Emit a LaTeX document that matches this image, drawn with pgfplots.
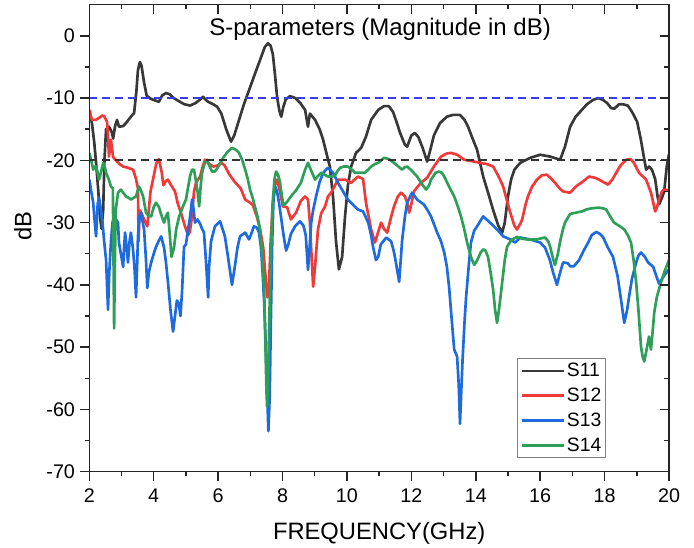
\documentclass[border=0pt]{standalone}
\usepackage{fontspec}
\setmainfont{Liberation Sans}
\usepackage{pgfplots}
\pgfplotsset{compat=1.18}
\definecolor{cS11}{HTML}{383838}
\definecolor{cS12}{HTML}{F03A3A}
\definecolor{cS13}{HTML}{1E6BDF}
\definecolor{cS14}{HTML}{2E9F58}
\definecolor{cDashB}{HTML}{3A3AF0}
\definecolor{cDashK}{HTML}{333333}
\begin{document}
\begin{tikzpicture}
\begin{axis}[
  scale only axis, width=434.8pt, height=350.3pt,
  xmin=2, xmax=20, ymin=-70, ymax=5,
  xtick={2,4,...,20}, ytick={-70,-60,...,0},
  minor x tick num=1, minor y tick num=1,
  tick align=outside, xtick pos=left, ytick pos=left,
  major tick length=6.75pt, minor tick length=3.4pt,
  axis line style={line width=1.1pt, draw=black!85},
  every tick/.style={line width=1.1pt, black!85},
  tick label style={font=\fontsize{14.8}{17}\selectfont},
  xticklabel style={yshift=-2.5pt},
  yticklabel style={xshift=-0.5pt},
  /pgf/number format/assume math mode=true,
  xlabel={FREQUENCY(GHz)}, ylabel={dB},
  xlabel style={font=\fontsize{17.8}{20}\selectfont, at={(axis description cs:0.5,0)}, anchor=base, yshift=-51.2pt},
  ylabel style={font=\fontsize{17.8}{20}\selectfont, at={(axis description cs:-0.1144,0.526)}, anchor=center},
  legend style={at={(axis description cs:0.738,0.2435)}, anchor=north west, draw=black!50, line width=0.75pt, fill=white, font=\fontsize{14.5}{16}\selectfont, inner xsep=2pt, inner ysep=2.5pt, row sep=5pt, nodes={inner sep=1pt}},
  legend cell align=left,
  legend image code/.code={\draw[#1] (0pt,0pt) -- (32pt,0pt);},
]
\addplot[cS11, line width=2pt, line join=round] coordinates {
(2.00,-11.9) (2.08,-14) (2.15,-17) (2.21,-20.4) (2.28,-25) (2.33,-29) (2.38,-31) (2.43,-28) (2.47,-20) (2.52,-15) (2.61,-14.6) (2.70,-15.5) (2.74,-16.5) (2.80,-14.5) (2.86,-13.5) (2.92,-14.6) (3.05,-14.5) (3.14,-14) (3.29,-13) (3.39,-12.4) (3.46,-9) (3.51,-5.5) (3.57,-4.2) (3.62,-4.8) (3.70,-7.5) (3.78,-9.6) (3.90,-10.1) (4.05,-10.4) (4.16,-10.6) (4.26,-9.6) (4.38,-9.2) (4.50,-9.4) (4.62,-10) (4.75,-10.4) (4.95,-11) (5.13,-11.2) (5.30,-10.8) (5.45,-10.2) (5.53,-9.8) (5.62,-10.3) (5.69,-10.6) (5.85,-11) (5.97,-11.4) (6.10,-12.5) (6.25,-15) (6.40,-17) (6.50,-16) (6.65,-13.5) (6.80,-11) (6.99,-8.3) (7.15,-6) (7.30,-3.9) (7.45,-1.8) (7.55,-1.2) (7.63,-1.6) (7.70,-3) (7.77,-6.5) (7.83,-9.8) (7.90,-12) (7.96,-13) (8.02,-11.5) (8.10,-10.2) (8.23,-9.7) (8.40,-10) (8.55,-10.8) (8.70,-11.9) (8.79,-14.6) (8.85,-12.5) (9.01,-13.5) (9.15,-15) (9.26,-16.7) (9.37,-19) (9.47,-21) (9.57,-26) (9.66,-33) (9.75,-37.5) (9.85,-35.5) (9.94,-29) (10.03,-24) (10.13,-21) (10.28,-18.8) (10.44,-18) (10.59,-16.2) (10.75,-13.5) (10.97,-11.9) (11.15,-11.3) (11.30,-11.3) (11.43,-12.2) (11.55,-14) (11.65,-15.6) (11.80,-17.5) (11.87,-17.8) (12.00,-16) (12.11,-15.6) (12.22,-16.3) (12.35,-18) (12.49,-20.2) (12.58,-18.5) (12.70,-16) (12.89,-14) (13.10,-13) (13.29,-12.7) (13.51,-12.7) (13.65,-13.5) (13.76,-14.6) (13.90,-16.5) (14.04,-18.3) (14.23,-22.6) (14.40,-25.5) (14.54,-28) (14.70,-30.5) (14.82,-31.6) (14.90,-30) (15.00,-25.8) (15.10,-23) (15.20,-21.5) (15.38,-20.4) (15.69,-19.6) (16.00,-19.1) (16.31,-19.4) (16.62,-19.9) (16.77,-17.8) (16.93,-14.6) (17.10,-13) (17.24,-12.2) (17.45,-11) (17.64,-10.3) (17.80,-10) (17.95,-10.3) (18.08,-10.8) (18.20,-11.6) (18.30,-11.7) (18.45,-11) (18.57,-11) (18.72,-11.2) (18.85,-12.2) (19.01,-13.8) (19.12,-16.5) (19.22,-19.5) (19.29,-21.5) (19.38,-21) (19.47,-21.5) (19.57,-23) (19.65,-26) (19.70,-27) (19.78,-26) (19.85,-25) (19.93,-21) (20.00,-19)
};
\addlegendentry{S11}
\addplot[cS12, line width=2pt, line join=round] coordinates {
(2.00,-11.9) (2.08,-13.5) (2.20,-13.5) (2.30,-13.2) (2.40,-12.8) (2.46,-12.9) (2.55,-13.8) (2.58,-16) (2.61,-19.4) (2.67,-16.7) (2.74,-19.5) (2.83,-20) (2.92,-20.5) (3.05,-21) (3.20,-21.2) (3.36,-21.5) (3.45,-23) (3.51,-24.5) (3.53,-33) (3.56,-28) (3.62,-28.5) (3.70,-29.5) (3.80,-30.6) (3.90,-25) (3.98,-23) (4.08,-20.5) (4.16,-19.8) (4.25,-22) (4.30,-24) (4.38,-23.3) (4.44,-23.1) (4.54,-24) (4.66,-25) (4.75,-27) (4.85,-28.5) (4.97,-30.6) (5.07,-32) (5.12,-31.5) (5.19,-29) (5.25,-25) (5.32,-23.5) (5.44,-22.6) (5.52,-21) (5.59,-19.9) (5.70,-20.5) (5.85,-21) (6.00,-20.8) (6.10,-20.4) (6.20,-20.8) (6.34,-22.2) (6.52,-23.5) (6.70,-24.5) (6.84,-26.3) (6.99,-26.8) (7.08,-27.2) (7.20,-29) (7.30,-31) (7.40,-34) (7.46,-38) (7.53,-42) (7.58,-40) (7.63,-33) (7.70,-27) (7.78,-23.5) (7.83,-23.1) (7.92,-25) (8.01,-27.4) (8.14,-27.5) (8.26,-29.5) (8.42,-28.4) (8.57,-26.5) (8.70,-25.8) (8.79,-26.3) (8.85,-30) (8.89,-34.3) (8.95,-40.3) (9.01,-37) (9.10,-31.1) (9.20,-28.5) (9.32,-27.4) (9.41,-25.8) (9.51,-25.2) (9.72,-23.1) (9.94,-23.1) (10.13,-23.6) (10.34,-22.6) (10.50,-23) (10.59,-26.8) (10.75,-31.1) (10.87,-33.2) (10.97,-31.5) (11.06,-30) (11.15,-31) (11.25,-31.6) (11.35,-29.5) (11.46,-27.4) (11.58,-25.8) (11.68,-25.2) (11.80,-25.8) (11.87,-26.8) (11.93,-28.4) (12.00,-27) (12.08,-25) (12.20,-24.2) (12.30,-23.6) (12.49,-22.8) (12.70,-21) (12.92,-19.4) (13.10,-18.9) (13.23,-18.8) (13.42,-19.1) (13.64,-19.9) (13.95,-20.2) (14.13,-20.4) (14.35,-20.6) (14.54,-21) (14.70,-22.5) (14.85,-24.2) (14.97,-26.5) (15.07,-28.4) (15.20,-30.5) (15.28,-31.1) (15.38,-30.2) (15.44,-29.5) (15.55,-27) (15.62,-25.8) (15.75,-24.2) (15.90,-23.1) (16.05,-22.4) (16.21,-22.3) (16.35,-23) (16.46,-23.6) (16.60,-24.5) (16.71,-25) (16.93,-25.2) (17.11,-24.2) (17.30,-23.5) (17.52,-22.6) (17.70,-22.8) (17.83,-23.1) (18.00,-23.6) (18.11,-23.9) (18.25,-23) (18.36,-22) (18.50,-20.8) (18.67,-19.9) (18.80,-19.8) (18.90,-20.3) (19.07,-22) (19.29,-23.1) (19.44,-25.2) (19.52,-27) (19.57,-28.2) (19.63,-27.5) (19.69,-26.3) (19.78,-25) (19.85,-24.7) (20.00,-24.8)
};
\addlegendentry{S12}
\addplot[cS13, line width=2pt, line join=round] coordinates {
(2.00,-23.1) (2.06,-25) (2.12,-26.8) (2.17,-30) (2.21,-32.2) (2.26,-27) (2.30,-26) (2.36,-27.9) (2.41,-30) (2.46,-33) (2.52,-36) (2.58,-44) (2.62,-38) (2.67,-33.2) (2.72,-30) (2.77,-29) (2.83,-29.5) (2.89,-30) (2.92,-33.2) (2.98,-35) (3.05,-37.1) (3.08,-34) (3.11,-31.6) (3.16,-34) (3.20,-36.4) (3.25,-33) (3.29,-31.6) (3.35,-34) (3.40,-37) (3.45,-42) (3.49,-36) (3.51,-32.2) (3.56,-29) (3.61,-28.4) (3.66,-30) (3.70,-31.1) (3.76,-36) (3.80,-40.5) (3.85,-38) (3.92,-36.4) (4.00,-35) (4.07,-33.9) (4.15,-33) (4.23,-32.2) (4.32,-34) (4.38,-36.4) (4.45,-40) (4.52,-44) (4.60,-47.5) (4.66,-45) (4.72,-42.5) (4.78,-43) (4.83,-45) (4.88,-41) (4.94,-33.9) (5.00,-33.5) (5.07,-31) (5.13,-29) (5.19,-26.3) (5.24,-28) (5.28,-30) (5.36,-29.5) (5.44,-30.2) (5.50,-31) (5.56,-31.6) (5.62,-36) (5.69,-42) (5.72,-37) (5.78,-33) (5.90,-30.6) (6.06,-29.8) (6.21,-32.2) (6.32,-36) (6.43,-40) (6.52,-37) (6.60,-34) (6.68,-32.2) (6.84,-31.6) (6.96,-32.7) (7.05,-31.5) (7.11,-30.6) (7.20,-30.8) (7.27,-31.6) (7.33,-34) (7.38,-38) (7.43,-43) (7.48,-50) (7.52,-57) (7.56,-63.5) (7.60,-58) (7.64,-45) (7.68,-33) (7.72,-26) (7.77,-24.2) (7.83,-25) (7.89,-26.8) (7.95,-29) (8.03,-32) (8.11,-34.5) (8.18,-33.5) (8.26,-31.8) (8.40,-30.5) (8.54,-29.8) (8.65,-30.5) (8.72,-32) (8.79,-37.6) (8.84,-34) (8.89,-30) (8.95,-28) (9.04,-25.8) (9.15,-23.5) (9.26,-22) (9.41,-21.2) (9.57,-22) (9.72,-23.6) (9.88,-25) (10.03,-26.3) (10.20,-27.2) (10.34,-27.9) (10.50,-28.2) (10.66,-30) (10.75,-32) (10.81,-33.9) (10.90,-36) (10.97,-35.5) (11.05,-33.5) (11.22,-32.4) (11.37,-33) (11.45,-34.5) (11.52,-36.4) (11.62,-39.5) (11.67,-36) (11.71,-33) (11.80,-29) (11.87,-26.8) (12.02,-25.2) (12.18,-26.3) (12.39,-27.1) (12.50,-28) (12.61,-29) (12.80,-31.6) (12.92,-33) (13.02,-34.8) (13.10,-37) (13.17,-40.3) (13.26,-46) (13.33,-50.4) (13.42,-51.5) (13.47,-56) (13.51,-62.3) (13.55,-57) (13.59,-52) (13.65,-46) (13.70,-41.9) (13.78,-37) (13.85,-33.2) (13.95,-31.3) (14.04,-30.6) (14.23,-29) (14.44,-30) (14.66,-31.1) (14.85,-32.2) (15.07,-32.7) (15.22,-33.2) (15.38,-32.4) (15.69,-32.7) (16.00,-33.2) (16.15,-34) (16.30,-36) (16.40,-38) (16.52,-40) (16.62,-38) (16.71,-36.4) (16.85,-36.5) (16.93,-37) (17.05,-37) (17.21,-36) (17.35,-34.5) (17.49,-33.2) (17.60,-32) (17.74,-31.5) (17.85,-31.8) (17.95,-32.3) (18.10,-34) (18.26,-35.5) (18.40,-38.5) (18.50,-42) (18.61,-46.1) (18.70,-44) (18.76,-41.9) (18.85,-39) (18.98,-36.4) (19.05,-35.3) (19.13,-34.8) (19.25,-35.5) (19.35,-36.4) (19.51,-37.1) (19.60,-38.5) (19.69,-39.8) (19.85,-38.5) (20.00,-37.5)
};
\addlegendentry{S13}
\addplot[cS14, line width=2pt, line join=round] coordinates {
(2.00,-18.8) (2.06,-20) (2.12,-21.5) (2.17,-21) (2.21,-21) (2.26,-22) (2.30,-23.1) (2.36,-22) (2.43,-20.4) (2.48,-21) (2.52,-22) (2.60,-23) (2.67,-24.2) (2.73,-24.5) (2.75,-35) (2.77,-47) (2.79,-38) (2.82,-28) (2.89,-25.2) (2.98,-24.7) (3.05,-25.2) (3.14,-25.8) (3.22,-26) (3.29,-26.3) (3.38,-26) (3.45,-25.8) (3.54,-24.2) (3.60,-24.8) (3.67,-25.8) (3.76,-28.4) (3.85,-29) (3.92,-29) (4.00,-27.5) (4.07,-26.8) (4.16,-27.5) (4.25,-29) (4.32,-30) (4.38,-29) (4.44,-28.4) (4.50,-32) (4.55,-35.5) (4.63,-34) (4.70,-31) (4.79,-29) (4.90,-27.5) (5.00,-26.3) (5.06,-24.5) (5.13,-22.5) (5.19,-21.5) (5.25,-21.5) (5.30,-23) (5.36,-25) (5.41,-27.4) (5.46,-24) (5.50,-22) (5.58,-20.5) (5.66,-19.9) (5.74,-21) (5.81,-21.8) (5.90,-21.8) (5.97,-21.3) (6.08,-20.3) (6.18,-19.4) (6.30,-18.6) (6.43,-18) (6.55,-18.3) (6.65,-18.8) (6.75,-20) (6.84,-21.5) (6.92,-23) (6.99,-24.7) (7.07,-26) (7.14,-27.4) (7.22,-29) (7.30,-31.1) (7.38,-36) (7.43,-41) (7.47,-50) (7.50,-57) (7.52,-59.6) (7.55,-55) (7.59,-45) (7.64,-35) (7.69,-27) (7.75,-23) (7.80,-21.8) (7.86,-22.3) (7.92,-23.5) (7.98,-25.8) (8.03,-27.2) (8.12,-26.8) (8.26,-25.8) (8.42,-24.8) (8.57,-23.6) (8.70,-21.5) (8.79,-20.4) (8.90,-21.8) (9.01,-23.1) (9.10,-22.5) (9.20,-22) (9.30,-22.3) (9.41,-22.6) (9.55,-22.6) (9.63,-22.4) (9.72,-21.6) (9.79,-21.2) (9.90,-21) (10.03,-21) (10.15,-21.5) (10.25,-22) (10.40,-22) (10.56,-22) (10.66,-21.5) (10.75,-21) (10.87,-20.6) (10.97,-20.4) (11.15,-19.6) (11.30,-19.8) (11.46,-20.4) (11.60,-21) (11.71,-21.5) (11.80,-21.1) (11.87,-21) (12.00,-21.6) (12.18,-22.6) (12.35,-24) (12.46,-24.7) (12.55,-24) (12.61,-23.1) (12.75,-22) (12.86,-21.8) (12.95,-22) (13.02,-22.6) (13.15,-24) (13.33,-25.8) (13.45,-27.5) (13.54,-29) (13.64,-31) (13.73,-33.2) (13.85,-35.5) (13.95,-36.8) (14.05,-36) (14.15,-34.8) (14.23,-34.3) (14.30,-34.5) (14.38,-35.5) (14.46,-38) (14.54,-40.8) (14.60,-44) (14.66,-46.1) (14.72,-44) (14.82,-39.6) (14.90,-36) (14.97,-33.9) (15.10,-32.8) (15.28,-32.3) (15.45,-32.6) (15.59,-32.7) (15.75,-32.7) (15.90,-32.7) (16.05,-32.5) (16.15,-32.4) (16.25,-33) (16.31,-33.9) (16.40,-35.8) (16.46,-36.8) (16.55,-35) (16.62,-33) (16.70,-31.2) (16.77,-30) (16.93,-28.6) (17.11,-28.4) (17.30,-28.2) (17.43,-27.9) (17.60,-27.7) (17.80,-27.6) (17.95,-27.7) (18.05,-27.9) (18.15,-28.8) (18.29,-30) (18.45,-30.5) (18.61,-31.1) (18.72,-32) (18.82,-33.2) (18.90,-36) (18.98,-39.6) (19.05,-44) (19.13,-49.9) (19.18,-51.5) (19.23,-52.3) (19.30,-50.5) (19.38,-48.3) (19.44,-50.4) (19.50,-47) (19.54,-44.5) (19.62,-42) (19.75,-39.6) (19.85,-38) (19.97,-36.4) (20.00,-36)
};
\addlegendentry{S14}
\addplot[cDashB, line width=1.5pt, dash pattern=on 6pt off 3.75pt, forget plot] coordinates {(2,-10) (20,-10)};
\addplot[cDashK, line width=1.5pt, dash pattern=on 6pt off 3.75pt, forget plot] coordinates {(2,-20) (20,-20)};
\node[font=\fontsize{18}{20}\selectfont, anchor=base] at (axis cs:11.03,0) {S-parameters (Magnitude in dB)};
\end{axis}
\begin{axis}[
  scale only axis, width=434.8pt, height=350.3pt,
  xmin=2, xmax=20, ymin=-70, ymax=5,
  xtick={2,4,...,20}, ytick={-70,-60,...,0},
  minor x tick num=1, minor y tick num=1,
  tick align=inside, xtick pos=right, ytick pos=right,
  xticklabels={}, yticklabels={},
  major tick length=6.75pt, minor tick length=3.4pt,
  axis line style={line width=1.1pt, draw=black!85},
  every tick/.style={line width=1.1pt, black!85},
]
\end{axis}
\pgfresetboundingbox
\path[use as bounding box] ([shift={(-67pt,-56.5pt)}]current axis.south west) rectangle ([shift={(18.75pt,3.5pt)}]current axis.north east);
\end{tikzpicture}
\end{document}
